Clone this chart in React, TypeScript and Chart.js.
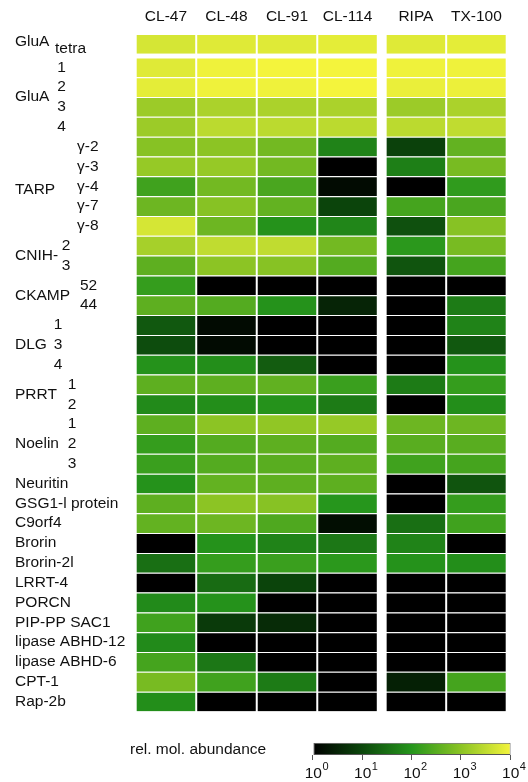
import React, { useEffect, useRef } from "react";
import { Chart, registerables } from "chart.js";

Chart.register(...registerables);

// ---------- data ----------
const columns = ["CL-47", "CL-48", "CL-91", "CL-114", "RIPA", "TX-100"];

const rowLabels = [
  "tetra", "1", "2", "3", "4",
  "γ-2", "γ-3", "γ-4", "γ-7", "γ-8",
  "2", "3",
  "52", "44",
  "1", "3", "4",
  "1", "2",
  "1", "2", "3",
  "Neuritin", "GSG1-l protein", "C9orf4", "Brorin", "Brorin-2l", "LRRT-4",
  "PORCN", "PIP-PP SAC1", "lipase ABHD-12", "lipase ABHD-6", "CPT-1", "Rap-2b",
];

// group name, first row, last row
const groupNames = ["GluA", "GluA", "TARP", "CNIH-", "CKAMP", "DLG", "PRRT", "Noelin"];
const groupFirst = [0, 1, 5, 10, 12, 14, 17, 19];
const groupLast = [0, 4, 9, 11, 13, 16, 18, 21];

// log10 of rel. mol. abundance (10^0 .. 10^4)
const cl47 = [3.7, 3.8, 3.85, 3.15, 3.15, 2.95, 3.1, 2.25, 2.7, 3.7, 3.25, 2.55, 2.15, 2.55, 1.2, 1.05, 1.95, 2.55, 1.85, 2.55, 2.15, 2.2, 1.95, 2.55, 2.6, 0, 1.5, 0, 1.85, 2.25, 1.85, 2.3, 2.8, 1.9];
const cl48 = [3.8, 3.95, 3.95, 3.3, 3.45, 3.0, 3.1, 2.75, 2.95, 2.7, 3.5, 3.0, 0, 2.45, 0.15, 0.15, 1.9, 2.55, 1.9, 3.0, 2.45, 2.45, 2.6, 3.0, 2.7, 1.95, 2.15, 1.45, 1.95, 0.8, 0, 1.6, 2.25, 0];
const cl91 = [3.8, 4.0, 3.95, 3.3, 3.45, 2.75, 2.75, 2.35, 2.6, 1.95, 3.5, 2.95, 0, 1.95, 0, 0, 1.25, 2.58, 1.95, 3.05, 2.55, 2.5, 2.55, 2.95, 2.4, 1.75, 2.2, 0.95, 0, 0.6, 0, 0, 1.65, 0];
const cl114 = [3.85, 4.0, 4.0, 3.3, 3.45, 1.75, 0, 0.15, 0.95, 1.8, 2.75, 2.45, 0, 0.5, 0, 0, 0, 2.2, 1.65, 3.1, 2.45, 2.55, 2.55, 2.0, 0.2, 1.6, 2.05, 0, 0, 0, 0, 0, 0, 0];
const ripa = [3.8, 3.95, 3.9, 3.15, 3.45, 0.9, 1.7, 0, 2.3, 1.1, 2.05, 1.15, 0, 0, 0, 0, 0, 1.65, 0, 2.7, 2.5, 2.25, 0, 0, 1.5, 1.75, 1.95, 0, 0, 0, 0, 0, 0.45, 0];
const tx100 = [3.85, 3.95, 3.92, 3.3, 3.5, 2.6, 2.8, 2.1, 2.35, 2.95, 2.8, 2.3, 0, 1.65, 1.75, 1.2, 1.95, 2.15, 1.9, 2.7, 2.5, 2.3, 1.15, 2.15, 2.25, 0, 1.9, 0, 0, 0, 0, 0, 2.3, 0];

const seriesValues = [cl47, cl48, cl91, cl114, ripa, tx100];

const colorbarTicks = [0, 1, 2, 3, 4];
const colorbarTitle = "rel. mol. abundance";

// ---------- style / layout ----------
const CMAP: number[][] = [
  [0, 0, 0],
  [12, 72, 12],
  [38, 150, 28],
  [140, 196, 36],
  [244, 244, 60],
];
function colorFor(v: number): string {
  const t = Math.max(0, Math.min(4, v));
  const i = Math.min(3, Math.floor(t));
  const f = t - i;
  const a = CMAP[i];
  const b = CMAP[i + 1];
  const c = a.map((x, k) => Math.round(x + (b[k] - x) * f));
  return `rgb(${c[0]},${c[1]},${c[2]})`;
}

const FONT = '"Liberation Sans", Arial, Helvetica, sans-serif';
const TEXT = "#111111";
const ROW_GAP = 0.18; // extra space after first row
const COL_GAP = 0.13; // extra space before detergent columns
const rowPos = rowLabels.map((_, i) => i + (i > 0 ? ROW_GAP : 0));
const colStart = columns.map((_, j) => j + (j >= 4 ? COL_GAP : 0));

// per-group label layout: [nameDy, subX, subAlign, subDy]
const groupLayout: [number, number, CanvasTextAlign, number][] = [
  [-2, 55, "left", 4.5],
  [0, 61.5, "center", 0],
  [3, 77, "left", 0],
  [0, 66, "center", 0],
  [0, 80, "left", 0],
  [0, 58, "center", 0],
  [0, 72, "center", 0],
  [0, 72, "center", 0],
];

const MAIN_W = 528;
const MAIN_H = 730;
const CB_H = 52;

export default function App() {
  const mainRef = useRef<HTMLCanvasElement | null>(null);
  const cbRef = useRef<HTMLCanvasElement | null>(null);

  useEffect(() => {
    if (!mainRef.current || !cbRef.current) return;

    const labelPlugin = {
      id: "heatLabels",
      afterDraw(chart: any) {
        const ctx = chart.ctx as CanvasRenderingContext2D;
        const xs = chart.scales.x;
        const ys = chart.scales.y;
        ctx.save();
        ctx.fillStyle = TEXT;
        ctx.font = `15.5px ${FONT}`;
        ctx.textBaseline = "middle";
        ctx.textAlign = "center";
        columns.forEach((c, j) => {
          ctx.fillText(c, xs.getPixelForValue(colStart[j] + 0.5), 16.5);
        });
        const grouped = new Array(rowLabels.length).fill(-1);
        groupNames.forEach((g, k) => {
          for (let r = groupFirst[k]; r <= groupLast[k]; r++) grouped[r] = k;
          const yc =
            (ys.getPixelForValue(rowPos[groupFirst[k]]) +
              ys.getPixelForValue(rowPos[groupLast[k]])) /
            2;
          ctx.textAlign = "left";
          ctx.fillText(g, 15, yc + groupLayout[k][0]);
        });
        rowLabels.forEach((lab, i) => {
          const y = ys.getPixelForValue(rowPos[i]);
          const k = grouped[i];
          if (k < 0) {
            ctx.textAlign = "left";
            ctx.fillText(lab, 15, y);
          } else {
            const [, sx, al, sdy] = groupLayout[k];
            ctx.textAlign = al;
            ctx.fillText(lab, sx, y + sdy);
          }
        });
        ctx.restore();
      },
    };

    const main = new Chart(mainRef.current, {
      type: "bar",
      data: {
        datasets: seriesValues.map((vals, j) => ({
          label: columns[j],
          data: vals.map((_, i) => ({ x: [colStart[j], colStart[j] + 1], y: rowPos[i] })),
          backgroundColor: vals.map((v) => colorFor(v)),
          borderColor: "#ffffff",
          borderWidth: { left: 1, right: 1, top: 1, bottom: 0 },
          borderSkipped: false,
          grouped: false,
          barPercentage: 1,
          categoryPercentage: 1,
          inflateAmount: 0,
        })) as any,
      },
      options: {
        indexAxis: "y",
        animation: false,
        responsive: false,
        maintainAspectRatio: false,
        events: [],
        layout: { padding: { left: 135.7, right: 21.3, top: 34, bottom: 18.5 } },
        plugins: { legend: { display: false }, tooltip: { enabled: false } },
        scales: {
          x: {
            type: "linear",
            display: false,
            bounds: "data",
            min: 0,
            max: colStart[colStart.length - 1] + 1,
          },
          y: {
            type: "linear",
            display: false,
            bounds: "data",
            offset: false,
            grid: { offset: false },
            reverse: true,
            min: -0.5,
            max: rowPos[rowPos.length - 1] + 0.5,
            ticks: { stepSize: 10, includeBounds: false },
          },
        },
      } as any,
      plugins: [labelPlugin],
    });

    const cbPlugin = {
      id: "cbLabels",
      afterDraw(chart: any) {
        const ctx = chart.ctx as CanvasRenderingContext2D;
        const xs = chart.scales.x;
        const area = chart.chartArea;
        ctx.save();
        ctx.strokeStyle = "#555555";
        ctx.lineWidth = 1;
        colorbarTicks.forEach((t) => {
          const x = Math.round(xs.getPixelForValue(t)) - 0.5;
          ctx.beginPath();
          ctx.moveTo(x, area.bottom);
          ctx.lineTo(x, area.bottom + 5);
          ctx.stroke();
        });
        ctx.fillStyle = TEXT;
        ctx.textBaseline = "alphabetic";
        colorbarTicks.forEach((t) => {
          const x = xs.getPixelForValue(t);
          ctx.font = `15.5px ${FONT}`;
          ctx.textAlign = "center";
          ctx.fillText("10", x, 48.3);
          const w = ctx.measureText("10").width;
          ctx.font = `11px ${FONT}`;
          ctx.textAlign = "left";
          ctx.fillText(String(t), x + w / 2 + 0.5, 40);
        });
        ctx.font = `15.5px ${FONT}`;
        ctx.textAlign = "left";
        ctx.textBaseline = "middle";
        ctx.fillText(colorbarTitle, 130, 19.5);
        ctx.restore();
      },
    };

    const cb = new Chart(cbRef.current, {
      type: "bar",
      data: {
        labels: [colorbarTitle],
        datasets: [
          {
            data: [[colorbarTicks[0], colorbarTicks[colorbarTicks.length - 1]]],
            backgroundColor: (c: any) => {
              const area = c.chart.chartArea;
              if (!area) return "#000";
              const g = c.chart.ctx.createLinearGradient(area.left, 0, area.right, 0);
              CMAP.forEach((_, k) => g.addColorStop(k / (CMAP.length - 1), colorFor(k)));
              return g;
            },
            borderColor: "#555555",
            borderWidth: 1,
            borderSkipped: false,
            barPercentage: 1,
            categoryPercentage: 1,
            inflateAmount: 0,
          },
        ] as any,
      },
      options: {
        indexAxis: "y",
        animation: false,
        responsive: false,
        maintainAspectRatio: false,
        events: [],
        layout: { padding: { left: 313.3, right: 17.3, top: 12.7, bottom: 27 } },
        plugins: { legend: { display: false }, tooltip: { enabled: false } },
        scales: {
          x: { type: "linear", display: false, bounds: "data", min: 0, max: 4 },
          y: { type: "category", display: false, offset: true },
        },
      } as any,
      plugins: [cbPlugin],
    });

    return () => {
      main.destroy();
      cb.destroy();
    };
  }, []);

  return (
    <div style={{ position: "fixed", left: 0, top: 0, width: MAIN_W, height: MAIN_H + CB_H, background: "#ffffff" }}>
      <canvas
        ref={mainRef}
        width={MAIN_W}
        height={MAIN_H}
        style={{ position: "absolute", left: 0, top: 0, width: MAIN_W, height: MAIN_H, display: "block" }}
      />
      <canvas
        ref={cbRef}
        width={MAIN_W}
        height={CB_H}
        style={{ position: "absolute", left: 0, top: MAIN_H, width: MAIN_W, height: CB_H, display: "block" }}
      />
    </div>
  );
}
